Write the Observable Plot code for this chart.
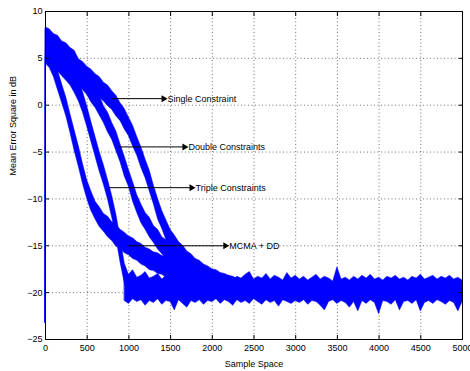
<!DOCTYPE html>
<html>
<head>
<meta charset="utf-8">
<script src="https://cdn.jsdelivr.net/npm/d3@7"></script>
<script src="https://cdn.jsdelivr.net/npm/@observablehq/plot@0.6"></script>
<style>
  html, body { margin: 0; padding: 0; background: #fff; }
</style>
</head>
<body>
<div id="chart"></div>
<script>
// ---- axis ticks ----
const xTicks = [0, 500, 1000, 1500, 2000, 2500, 3000, 3500, 4000, 4500, 5000];
const yTicks = [-25, -20, -15, -10, -5, 0, 5, 10];

// ---- MCMA + DD (envelope of the noisy curve, dB) ----
const mcmaX  = [0, 3, 50, 100, 150, 200, 250, 300, 350, 400, 450, 500, 550, 600, 650, 700, 750, 800, 850, 900, 950, 1000, 1050, 1100, 1150, 1200, 1250, 1300, 1350, 1400, 1450, 1500, 1550, 1600, 1650, 1700, 1750, 1800, 1850, 1900, 1950, 2000, 2050, 2100, 2150, 2200];
const mcmaHi = [-23.2, 8.0, 6.9, 5.0, 3.7, 2.2, 0.8, -1.0, -2.7, -4.4, -6.3, -8.0, -9.2, -10.3, -10.9, -11.6, -11.9, -12.5, -12.8, -13.3, -13.6, -14.0, -14.2, -14.6, -14.8, -15.2, -15.4, -15.7, -15.8, -16.1, -16.2, -16.6, -16.5, -16.9, -17.1, -17.1, -17.4, -17.4, -17.6, -17.7, -17.9, -17.9, -18.1, -18.1, -18.3, -18.4];
const mcmaLo = [-23.2, 4.4, 4.0, 3.0, 1.6, 0.2, -1.2, -3.0, -4.9, -6.6, -8.4, -10.0, -11.3, -12.2, -13.0, -13.5, -14.1, -14.5, -15.1, -15.3, -15.8, -16.0, -16.4, -16.6, -17.0, -17.2, -17.6, -17.7, -18.0, -18.1, -18.4, -18.5, -18.7, -18.8, -19.0, -19.1, -19.3, -19.4, -19.5, -19.7, -19.7, -19.9, -19.9, -20.1, -20.1, -20.2];

// ---- Triple Constraints ----
const tripleX  = [0, 3, 50, 100, 150, 200, 250, 300, 350, 400, 450, 500, 550, 600, 650, 700, 750, 800, 850, 900, 950, 1000];
const tripleHi = [-23.2, 8.1, 7.4, 6.9, 6.3, 5.8, 5.2, 4.2, 3.5, 2.5, 1.4, -0.1, -1.8, -3.4, -5.0, -6.4, -8.0, -9.7, -11.7, -14.2, -16.9, -18.1];
const tripleLo = [-23.2, 5.0, 4.6, 4.1, 3.6, 3.1, 2.6, 2.1, 1.3, 0.4, -0.8, -2.3, -3.9, -5.5, -7.1, -8.5, -10.1, -12.0, -14.2, -16.8, -19.0, -20.6];

// ---- Double Constraints ----
const doubleX  = [0, 3, 50, 100, 150, 200, 250, 300, 350, 400, 450, 500, 550, 600, 650, 700, 750, 800, 850, 900, 950, 1000, 1050, 1100, 1150, 1200, 1250, 1300, 1350, 1400, 1450, 1500, 1550, 1600, 1650, 1700, 1750, 1800, 1850, 1900, 1950, 2000, 2050, 2100, 2150, 2200];
const doubleHi = [-23.2, 8.2, 7.8, 7.2, 7.0, 6.4, 6.2, 5.5, 5.2, 4.4, 3.7, 2.9, 2.4, 1.5, 1.0, -0.1, -0.8, -1.9, -2.8, -4.2, -5.5, -6.9, -8.2, -9.6, -10.6, -11.5, -12.0, -12.9, -13.3, -14.1, -14.4, -15.1, -15.3, -15.9, -16.0, -16.5, -16.6, -17.0, -17.1, -17.5, -17.6, -17.9, -18.0, -18.2, -18.2, -18.4];
const doubleLo = [-23.2, 5.3, 5.1, 4.7, 4.4, 3.9, 3.5, 3.1, 2.5, 2.0, 1.6, 1.1, 0.3, -0.3, -1.1, -1.9, -2.9, -3.7, -4.9, -6.1, -7.6, -8.7, -10.3, -11.5, -12.6, -13.3, -14.1, -14.7, -15.4, -15.9, -16.5, -16.9, -17.4, -17.7, -18.1, -18.3, -18.6, -18.8, -19.1, -19.3, -19.5, -19.7, -19.9, -20.0, -20.1, -20.2];

// ---- Single Constraint ----
const singleX  = [0, 3, 50, 100, 150, 200, 250, 300, 350, 400, 450, 500, 550, 600, 650, 700, 750, 800, 850, 900, 950, 1000, 1050, 1100, 1150, 1200, 1250, 1300, 1350, 1400, 1450, 1500, 1550, 1600, 1650, 1700, 1750, 1800, 1850, 1900, 1950, 2000, 2050, 2100, 2150, 2200, 2250, 2300];
const singleHi = [-23.2, 8.3, 8.1, 7.6, 7.4, 6.8, 6.6, 6.1, 5.8, 4.9, 4.6, 4.1, 3.8, 3.3, 3.0, 2.4, 2.1, 1.5, 1.0, 0.2, -0.4, -1.3, -2.2, -3.4, -4.5, -5.8, -7.0, -8.6, -10.0, -11.3, -12.3, -13.3, -13.9, -14.6, -15.0, -15.6, -15.9, -16.4, -16.6, -17.0, -17.2, -17.5, -17.6, -17.9, -18.0, -18.2, -18.3, -18.5];
const singleLo = [-23.2, 5.9, 5.5, 5.1, 4.6, 4.3, 3.8, 3.6, 3.1, 2.7, 2.3, 2.0, 1.6, 1.3, 0.8, 0.4, -0.1, -0.5, -1.2, -1.7, -2.6, -3.3, -4.4, -5.4, -6.7, -7.8, -9.2, -10.6, -12.2, -13.2, -14.4, -15.2, -16.0, -16.5, -17.1, -17.5, -18.0, -18.3, -18.7, -18.9, -19.3, -19.4, -19.7, -19.8, -20.0, -20.1, -20.2, -20.3];

// ---- common steady-state floor (all four curves) ----
const floorX  = [950, 1000, 1050, 1100, 1150, 1200, 1250, 1300, 1350, 1400, 1450, 1500, 1550, 1600, 1650, 1700, 1750, 1800, 1850, 1900, 1950, 2000, 2050, 2100, 2150, 2200, 2250, 2300, 2350, 2400, 2450, 2500, 2550, 2600, 2650, 2700, 2750, 2800, 2850, 2900, 2950, 3000, 3050, 3100, 3150, 3200, 3250, 3300, 3350, 3400, 3450, 3500, 3550, 3600, 3650, 3700, 3750, 3800, 3850, 3900, 3950, 4000, 4050, 4100, 4150, 4200, 4250, 4300, 4350, 4400, 4450, 4500, 4550, 4600, 4650, 4700, 4750, 4800, 4850, 4900, 4950, 5000];
const floorHi = [-18.0, -18.1, -17.6, -18.4, -18.2, -17.8, -18.5, -18.3, -18.0, -18.6, -18.2, -17.9, -18.5, -18.3, -18.7, -18.1, -18.6, -18.4, -18.2, -18.7, -18.3, -18.5, -18.0, -18.6, -18.4, -18.2, -18.7, -18.3, -18.5, -18.1, -17.8, -18.6, -18.3, -18.5, -18.0, -18.6, -18.2, -18.4, -18.7, -17.9, -18.5, -18.2, -18.6, -18.3, -18.7, -18.4, -18.1, -18.6, -18.3, -18.5, -18.8, -17.3, -18.6, -18.4, -18.7, -18.3, -18.6, -18.2, -18.5, -18.1, -18.6, -18.4, -18.7, -18.3, -18.5, -18.2, -18.6, -18.4, -18.7, -18.3, -18.5, -18.1, -18.6, -18.4, -18.2, -18.6, -18.3, -18.5, -18.2, -18.6, -18.4, -18.7];
const floorLo = [-20.9, -21.2, -20.7, -21.0, -20.8, -21.4, -20.9, -21.1, -20.7, -21.3, -20.9, -21.0, -21.9, -20.8, -21.2, -21.6, -20.9, -21.1, -20.8, -21.3, -20.9, -21.0, -20.7, -21.2, -20.8, -21.0, -21.4, -20.8, -21.1, -20.9, -21.2, -20.7, -21.0, -21.3, -20.8, -21.1, -20.9, -21.5, -20.8, -21.0, -21.2, -20.9, -21.1, -20.8, -21.3, -20.9, -21.0, -21.4, -21.9, -21.0, -20.8, -21.2, -20.9, -21.1, -21.6, -21.0, -22.0, -20.9, -21.2, -20.8, -21.1, -22.3, -20.9, -21.0, -21.3, -20.8, -21.9, -21.0, -20.9, -21.2, -20.8, -22.0, -21.1, -20.9, -21.2, -20.8, -21.0, -21.3, -20.9, -21.1, -22.0, -21.0];

// ---- annotations ----
const annLabels = ["Single Constraint", "Double Constraints", "Triple Constraints", "MCMA + DD"];
const annY      = [0.7, -4.45, -8.8, -15.0];
const annFrom   = [800, 875, 755, 995];
const annTo     = [1440, 1690, 1775, 2180];

const xLabel = "Sample Space";
const yLabel = "Mean Error Square in dB";

// build tables
function band(xs, hi, lo) { return xs.map((x, i) => ({x, hi: hi[i], lo: lo[i]})); }
const bands = [
  band(mcmaX, mcmaHi, mcmaLo),
  band(tripleX, tripleHi, tripleLo),
  band(doubleX, doubleHi, doubleLo),
  band(singleX, singleHi, singleLo),
  band(floorX, floorHi, floorLo)
];
const ann = annLabels.map((label, i) => ({label, y: annY[i], x1: annFrom[i], x2: annTo[i]}));

const blue = "#0000ff";
const gridTicksX = xTicks.slice(1, -1);
const gridTicksY = yTicks.slice(1, -1);
const fmt = d3.format("d");

const plot = Plot.plot({
  width: 470,
  height: 371,
  marginLeft: 45,
  marginRight: 8,
  marginTop: 11,
  marginBottom: 32,
  style: {fontFamily: "'Liberation Sans', Arial, Helvetica, sans-serif", fontSize: "9px", background: "#fff", color: "#000"},
  x: {domain: [0, 5000]},
  y: {domain: [-25, 10]},
  marks: [
    Plot.gridX(gridTicksX, {stroke: "#000", strokeOpacity: 0.55, strokeDasharray: "1,2.5"}),
    Plot.gridY(gridTicksY, {stroke: "#000", strokeOpacity: 0.55, strokeDasharray: "1,2.5"}),
    ...bands.map(b => Plot.areaY(b, {x: "x", y1: "lo", y2: "hi", fill: blue, stroke: blue, strokeWidth: 0.5, curve: "linear"})),
    Plot.link(ann, {x1: "x1", x2: "x2", y1: "y", y2: "y", stroke: "#000", strokeWidth: 1}),
    Plot.dot(ann, {x: "x2", y: "y", symbol: "triangle", rotate: 90, r: 2.6, fill: "#000", stroke: null, dx: -2}),
    Plot.text(ann, {x: "x2", y: "y", text: "label", textAnchor: "start", dx: 2, fill: "#000", fontSize: 9}),
    Plot.frame({stroke: "#000", strokeWidth: 1}),
    Plot.axisX(xTicks, {anchor: "bottom", tickSize: -4, tickPadding: 9, tickFormat: fmt, label: null, fontSize: 9}),
    Plot.axisX(xTicks, {anchor: "top", tickSize: -4, tickFormat: () => "", label: null}),
    Plot.axisY(yTicks, {anchor: "left", tickSize: -4, tickPadding: 7, tickFormat: fmt, label: null, fontSize: 9}),
    Plot.axisY(yTicks, {anchor: "right", tickSize: -4, tickFormat: () => "", label: null}),
    Plot.text([xLabel], {frameAnchor: "bottom", dy: 27, fontSize: 9, fill: "#000"}),
    Plot.text([yLabel], {frameAnchor: "left", dx: -32, rotate: -90, fontSize: 9, fill: "#000"})
  ]
});
document.getElementById("chart").appendChild(plot);
</script>
</body>
</html>
